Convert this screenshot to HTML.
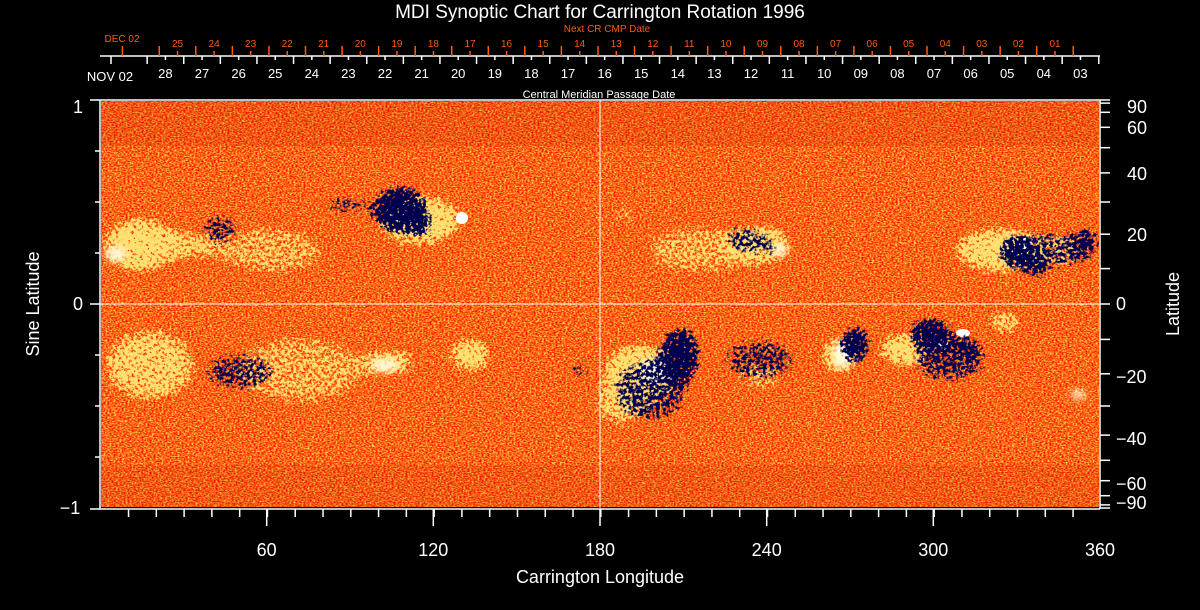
<!DOCTYPE html>
<html><head><meta charset="utf-8"><style>
html,body{margin:0;padding:0;background:#000;width:1200px;height:610px;overflow:hidden}
svg{display:block}
text{font-family:"Liberation Sans",sans-serif}
</style></head><body>
<svg width="1200" height="610" viewBox="0 0 1200 610" xmlns="http://www.w3.org/2000/svg">
<defs>
<filter id="base" x="0" y="0" width="100%" height="100%" color-interpolation-filters="sRGB">
<feTurbulence type="fractalNoise" baseFrequency="0.5 0.8" numOctaves="2" seed="3"/>
<feColorMatrix type="matrix" values="0 0 0 0 1  1.6 0 0 0 -0.42  0.6 0 0 0 -0.22  0 0 0 0 1"/>
</filter>
<filter id="sparse" x="0" y="0" width="100%" height="100%" color-interpolation-filters="sRGB">
<feTurbulence type="fractalNoise" baseFrequency="0.4" numOctaves="2" seed="5" result="n"/>
<feColorMatrix in="n" type="matrix" values="0 0 0 0 1  0 0 0 0 0.8  0 0 0 0 0.35  8 0 0 0 -5.2"/>
</filter>
<filter id="yel" x="-20%" y="-20%" width="140%" height="140%">
<feGaussianBlur in="SourceGraphic" stdDeviation="9" result="b"/>
<feTurbulence type="fractalNoise" baseFrequency="0.32" numOctaves="2" seed="7" result="n"/>
<feColorMatrix in="n" type="matrix" values="0 0 0 0 0  0 0 0 0 0  0 0 0 0 0  1 0 0 0 0" result="na"/>
<feComposite in="b" in2="na" operator="arithmetic" k1="1" k2="0" k3="0" k4="0" result="p"/>
<feComponentTransfer in="p" result="m"><feFuncA type="linear" slope="10" intercept="-3.0"/></feComponentTransfer>
<feFlood flood-color="#ffe070"/>
<feComposite in2="m" operator="in"/>
</filter>
<filter id="blu" x="-20%" y="-20%" width="140%" height="140%">
<feGaussianBlur in="SourceGraphic" stdDeviation="8" result="b"/>
<feTurbulence type="fractalNoise" baseFrequency="0.3" numOctaves="2" seed="11" result="n"/>
<feColorMatrix in="n" type="matrix" values="0 0 0 0 0  0 0 0 0 0  0 0 0 0 0  1 0 0 0 0" result="na"/>
<feComposite in="b" in2="na" operator="arithmetic" k1="1" k2="0" k3="0" k4="0" result="p"/>
<feComponentTransfer in="p" result="m"><feFuncA type="linear" slope="10" intercept="-2.3"/></feComponentTransfer>
<feFlood flood-color="#000050"/>
<feComposite in2="m" operator="in"/>
</filter>
<filter id="blur"><feGaussianBlur stdDeviation="4"/></filter>
</defs>

<rect x="101" y="101" width="998" height="406" fill="#f04818"/>
<rect x="101" y="101" width="998" height="406" filter="url(#base)"/>
<rect x="101" y="101" width="998" height="406" filter="url(#sparse)"/>
<rect x="101" y="101" width="998" height="45" fill="#a01000" opacity="0.15"/>
<rect x="101" y="465" width="998" height="42" fill="#a01000" opacity="0.12"/>

<g filter="url(#yel)" fill="#fff">
<ellipse cx="140" cy="245" rx="40" ry="30"/>
<ellipse cx="190" cy="245" rx="30" ry="20" opacity="0.8"/>
<ellipse cx="270" cy="250" rx="60" ry="30" opacity="0.7"/>
<ellipse cx="420" cy="220" rx="45" ry="28"/>
<ellipse cx="760" cy="245" rx="35" ry="22"/>
<ellipse cx="700" cy="250" rx="60" ry="30" opacity="0.7"/>
<ellipse cx="1000" cy="250" rx="50" ry="25"/>
<ellipse cx="1060" cy="250" rx="30" ry="20" opacity="0.8"/>
<ellipse cx="1005" cy="322" rx="20" ry="14"/>
<ellipse cx="150" cy="365" rx="50" ry="40" opacity="0.85"/>
<ellipse cx="300" cy="370" rx="70" ry="40" opacity="0.7"/>
<ellipse cx="390" cy="362" rx="30" ry="15"/>
<ellipse cx="470" cy="355" rx="25" ry="20"/>
<ellipse cx="640" cy="375" rx="40" ry="35"/>
<ellipse cx="620" cy="405" rx="30" ry="25" opacity="0.8"/>
<ellipse cx="760" cy="375" rx="30" ry="20" opacity="0.7"/>
<ellipse cx="840" cy="355" rx="22" ry="22"/>
<ellipse cx="905" cy="350" rx="30" ry="20"/>
<ellipse cx="625" cy="215" rx="20" ry="12" opacity="0.8"/>
<ellipse cx="1080" cy="393" rx="15" ry="10"/>
</g>
<g filter="url(#blur)" fill="#fffbe0">
<ellipse cx="116" cy="254" rx="10" ry="7"/>
<ellipse cx="385" cy="365" rx="14" ry="6"/>
<ellipse cx="655" cy="372" rx="16" ry="12"/>
<ellipse cx="842" cy="355" rx="9" ry="13"/>
<ellipse cx="780" cy="250" rx="7" ry="6"/>
<ellipse cx="1078" cy="395" rx="7" ry="4"/>
</g>
<circle cx="462" cy="218" r="6" fill="#fff"/>
<circle cx="1025" cy="244" r="6" fill="#fff"/>
<circle cx="943" cy="345" r="5" fill="#fff"/>
<ellipse cx="963" cy="333" rx="7" ry="4" fill="#fff"/>

<g filter="url(#blu)" fill="#fff">
<ellipse cx="220" cy="230" rx="22" ry="20" opacity="0.6"/>
<ellipse cx="240" cy="372" rx="40" ry="22" opacity="0.6"/>
<ellipse cx="650" cy="390" rx="40" ry="35" opacity="0.62"/>
<ellipse cx="580" cy="370" rx="15" ry="12" opacity="0.65"/>
<ellipse cx="745" cy="240" rx="25" ry="18" opacity="0.6"/>
<ellipse cx="760" cy="360" rx="40" ry="25" opacity="0.58"/>
<ellipse cx="950" cy="360" rx="40" ry="25" opacity="0.62"/>
<ellipse cx="345" cy="205" rx="25" ry="12" opacity="0.62"/>
<ellipse cx="1050" cy="250" rx="45" ry="22" opacity="0.58"/>
<ellipse cx="400" cy="210" rx="28" ry="24"/>
<ellipse cx="418" cy="225" rx="16" ry="12"/>
<ellipse cx="410" cy="367" rx="9" ry="7"/>
<ellipse cx="487" cy="355" rx="7" ry="7"/>
<ellipse cx="680" cy="355" rx="20" ry="28"/>
<ellipse cx="855" cy="345" rx="15" ry="20"/>
<ellipse cx="930" cy="333" rx="22" ry="15"/>
<ellipse cx="968" cy="345" rx="12" ry="9"/>
<ellipse cx="1015" cy="252" rx="17" ry="17"/>
<ellipse cx="1035" cy="268" rx="9" ry="12"/>
<ellipse cx="1087" cy="242" rx="11" ry="16"/>
<ellipse cx="770" cy="248" rx="9" ry="8"/>
<ellipse cx="1088" cy="390" rx="7" ry="5"/>
<ellipse cx="230" cy="290" rx="6" ry="10" opacity="0.8"/>
</g>

<line x1="600" y1="100" x2="600" y2="508" stroke="#fff" stroke-width="1"/>
<line x1="100" y1="304" x2="1100" y2="304" stroke="#fff" stroke-width="1"/>

<g stroke="#fff" stroke-width="1.5" fill="none">
<line x1="90" y1="100" x2="1100" y2="100"/>
<line x1="100" y1="100" x2="100" y2="509"/>
<line x1="1100" y1="100" x2="1100" y2="509"/>
<line x1="90" y1="509" x2="1100" y2="509"/>
<line x1="90" y1="304" x2="100" y2="304"/>
</g>
<g stroke="#fff" stroke-width="1.5">
<line x1="95" y1="151" x2="100" y2="151"/><line x1="95" y1="202" x2="100" y2="202"/><line x1="95" y1="253" x2="100" y2="253"/>
<line x1="95" y1="355" x2="100" y2="355"/><line x1="95" y1="406" x2="100" y2="406"/><line x1="95" y1="457" x2="100" y2="457"/>
</g>
<line x1="127.8" y1="513" x2="1100" y2="513" stroke="#fff" stroke-width="8" stroke-dasharray="1.5 26.28"/>
<g stroke="#fff" stroke-width="1.5">
<line x1="266.7" y1="509" x2="266.7" y2="526"/><line x1="433.3" y1="509" x2="433.3" y2="526"/>
<line x1="600" y1="509" x2="600" y2="526"/><line x1="766.7" y1="509" x2="766.7" y2="526"/>
<line x1="933.3" y1="509" x2="933.3" y2="526"/>
</g>
<g stroke="#fff" stroke-width="1.5">
<line x1="1100" y1="100" x2="1110" y2="100"/><line x1="1100" y1="103.1" x2="1110" y2="103.1"/><line x1="1100" y1="112.3" x2="1110" y2="112.3"/>
<line x1="1100" y1="127.3" x2="1110" y2="127.3"/><line x1="1100" y1="147.7" x2="1110" y2="147.7"/><line x1="1100" y1="172.9" x2="1110" y2="172.9"/>
<line x1="1100" y1="202" x2="1110" y2="202"/><line x1="1100" y1="234.2" x2="1110" y2="234.2"/><line x1="1100" y1="268.6" x2="1110" y2="268.6"/>
<line x1="1100" y1="304" x2="1110" y2="304"/>
<line x1="1100" y1="339.4" x2="1110" y2="339.4"/><line x1="1100" y1="373.8" x2="1110" y2="373.8"/><line x1="1100" y1="406" x2="1110" y2="406"/>
<line x1="1100" y1="435.1" x2="1110" y2="435.1"/><line x1="1100" y1="460.3" x2="1110" y2="460.3"/><line x1="1100" y1="480.7" x2="1110" y2="480.7"/>
<line x1="1100" y1="495.7" x2="1110" y2="495.7"/><line x1="1100" y1="504.9" x2="1110" y2="504.9"/><line x1="1100" y1="508" x2="1110" y2="508"/>
</g>

<line x1="100" y1="56" x2="1100" y2="56" stroke="#fff" stroke-width="1.5"/>
<line x1="111" y1="56" x2="111" y2="64" stroke="#fff" stroke-width="1.5"/>
<line x1="146.4" y1="60" x2="1101" y2="60" stroke="#fff" stroke-width="8" stroke-dasharray="1.5 35.1"/>
<line x1="164.7" y1="58" x2="1090" y2="58" stroke="#fff" stroke-width="4" stroke-dasharray="1.5 35.1"/>
<line x1="122.4" y1="46" x2="122.4" y2="56" stroke="#ff5a10" stroke-width="1.5"/>
<line x1="158.5" y1="51" x2="1076" y2="51" stroke="#ff5a10" stroke-width="10" stroke-dasharray="1.5 35.06"/>
<line x1="176.8" y1="53.5" x2="1060" y2="53.5" stroke="#ff5a10" stroke-width="5" stroke-dasharray="1.5 35.06"/>

<text x="600" y="18" fill="#fff" font-size="19" text-anchor="middle">MDI Synoptic Chart for Carrington Rotation 1996</text>
<g fill="#ff5a10" font-size="10" text-anchor="middle">
<text x="607" y="32">Next CR CMP Date</text>
<text x="122" y="42">DEC 02</text>
<text x="177.5" y="47">25</text><text x="214.1" y="47">24</text><text x="250.6" y="47">23</text><text x="287.2" y="47">22</text><text x="323.7" y="47">21</text>
<text x="360.3" y="47">20</text><text x="396.9" y="47">19</text><text x="433.4" y="47">18</text><text x="470" y="47">17</text><text x="506.5" y="47">16</text>
<text x="543.1" y="47">15</text><text x="579.7" y="47">14</text><text x="616.2" y="47">13</text><text x="652.8" y="47">12</text><text x="689.3" y="47">11</text>
<text x="725.9" y="47">10</text><text x="762.5" y="47">09</text><text x="799" y="47">08</text><text x="835.6" y="47">07</text><text x="872.1" y="47">06</text>
<text x="908.7" y="47">05</text><text x="945.3" y="47">04</text><text x="981.8" y="47">03</text><text x="1018.4" y="47">02</text><text x="1055" y="47">01</text>
</g>
<g fill="#fff" font-size="13" text-anchor="middle">
<text x="110" y="81">NOV 02</text>
<text x="165.4" y="78">28</text><text x="202" y="78">27</text><text x="238.6" y="78">26</text><text x="275.2" y="78">25</text><text x="311.8" y="78">24</text>
<text x="348.4" y="78">23</text><text x="385" y="78">22</text><text x="421.6" y="78">21</text><text x="458.2" y="78">20</text><text x="494.8" y="78">19</text>
<text x="531.4" y="78">18</text><text x="568" y="78">17</text><text x="604.6" y="78">16</text><text x="641.2" y="78">15</text><text x="677.8" y="78">14</text>
<text x="714.4" y="78">13</text><text x="751" y="78">12</text><text x="787.6" y="78">11</text><text x="824.2" y="78">10</text><text x="860.8" y="78">09</text>
<text x="897.4" y="78">08</text><text x="934" y="78">07</text><text x="970.6" y="78">06</text><text x="1007.2" y="78">05</text><text x="1043.8" y="78">04</text>
<text x="1080.4" y="78">03</text>
</g>
<text x="599" y="98" fill="#fff" font-size="11" text-anchor="middle">Central Meridian Passage Date</text>

<g fill="#fff" font-size="18">
<text x="78" y="113" text-anchor="middle">1</text>
<text x="78" y="310" text-anchor="middle">0</text>
<text x="70" y="514" text-anchor="middle">−1</text>
<text x="266.7" y="556" text-anchor="middle">60</text>
<text x="433.3" y="556" text-anchor="middle">120</text>
<text x="600" y="556" text-anchor="middle">180</text>
<text x="766.7" y="556" text-anchor="middle">240</text>
<text x="933.3" y="556" text-anchor="middle">300</text>
<text x="1100" y="556" text-anchor="middle">360</text>
<text x="600" y="583" text-anchor="middle">Carrington Longitude</text>
<text transform="translate(39,304) rotate(-90)" text-anchor="middle">Sine Latitude</text>
<text transform="translate(1179,304) rotate(-90)" text-anchor="middle">Latitude</text>
<text x="1127" y="113">90</text>
<text x="1127" y="134">60</text>
<text x="1127" y="180">40</text>
<text x="1127" y="241">20</text>
<text x="1116" y="310">0</text>
<text x="1116" y="383">−20</text>
<text x="1116" y="445">−40</text>
<text x="1116" y="490">−60</text>
<text x="1116" y="509">−90</text>
</g>
</svg>
</body></html>
